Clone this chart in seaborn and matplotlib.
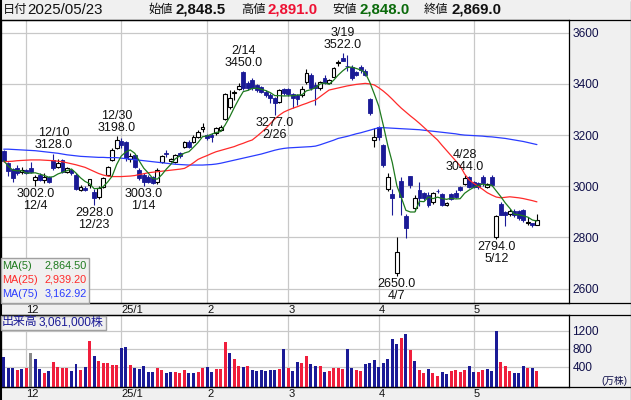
import numpy as np
import pandas as pd
import matplotlib
matplotlib.use("Agg")
import matplotlib.pyplot as plt
from matplotlib.patches import Rectangle
from matplotlib.lines import Line2D
import seaborn as sns

# ---------------- data ----------------
first_day = "2024-11-25"
last_day = "2025-05-23"
market_holidays = ["2024-12-31", "2025-01-01", "2025-01-02", "2025-01-03", "2025-01-13",
                   "2025-02-11", "2025-02-24", "2025-03-20", "2025-04-29", "2025-05-05", "2025-05-06"]

opens = [3136, 3092, 3066, 3070, 3054, 3064, 3070, 3026, 3044, 3025,
         3038, 3103, 3077, 3103, 3057, 3064, 3045, 2986, 2995, 3005,
         2979, 2960, 2999, 3044, 3103, 3148, 3178, 3174, 3105, 3122,
         3064, 3044, 3038, 3035, 3018, 3096, 3132, 3100, 3096, 3131,
         3155, 3174, 3174, 3194, 3222, 3200, 3200, 3207, 3220, 3262,
         3311, 3365, 3379, 3448, 3402, 3415, 3396, 3389, 3370, 3357,
         3344, 3331, 3379, 3379, 3362, 3357, 3357, 3409, 3435, 3396,
         3383, 3422, 3402, 3428, 3483, 3500, 3471, 3467, 3448, 3467,
         3452, 3340, 3181, 3230, 3161, 2988, 2970, 2660, 3020, 2884,
         3040, 2914, 2985, 2973, 2966, 2940, 2983, 2970, 2927, 2970,
         2975, 2998, 3008, 3038, 3018, 3012, 3038, 2999, 3035, 2801,
         2930, 2901, 2892, 2905, 2905, 2907, 2855, 2855, 2848.5]
highs = [3140, 3095, 3072, 3083, 3075, 3068, 3096, 3044, 3050, 3051,
         3042, 3128, 3105, 3108, 3075, 3068, 3050, 3005, 3000, 3030,
         2990, 3000, 3038, 3080, 3150, 3198, 3190, 3178, 3130, 3128,
         3070, 3050, 3045, 3040, 3070, 3122, 3142, 3112, 3126, 3135,
         3178, 3180, 3200, 3218, 3246, 3205, 3207, 3230, 3240, 3363,
         3376, 3376, 3402, 3450, 3410, 3422, 3400, 3392, 3375, 3363,
         3350, 3380, 3385, 3383, 3366, 3362, 3390, 3457, 3444, 3409,
         3412, 3435, 3418, 3465, 3493, 3522, 3513, 3475, 3452, 3474,
         3457, 3345, 3226, 3235, 3165, 3051, 2988, 2800, 3038, 2890,
         3042, 2966, 3018, 2978, 2979, 2979, 2988, 2975, 2940, 2975,
         2985, 3001, 3044, 3041, 3022, 3015, 3044, 3014, 3044, 2888,
         2940, 2905, 2910, 2910, 2908, 2910, 2880, 2858, 2891]
lows = [3095, 3040, 3018, 3044, 3048, 3048, 3052, 3002, 3020, 3012,
        3012, 3065, 3070, 3052, 3052, 3045, 2985, 2980, 2980, 2995,
        2928, 2950, 2995, 3040, 3100, 3145, 3150, 3100, 3095, 3070,
        3025, 3003, 3012, 3008, 3010, 3090, 3115, 3095, 3090, 3112,
        3150, 3150, 3170, 3190, 3213, 3180, 3174, 3200, 3215, 3258,
        3300, 3337, 3375, 3378, 3378, 3378, 3370, 3365, 3348, 3327,
        3277, 3325, 3355, 3352, 3304, 3318, 3350, 3400, 3378, 3318,
        3378, 3398, 3398, 3425, 3470, 3488, 3451, 3415, 3430, 3441,
        3430, 3278, 3155, 3180, 3075, 2980, 2888, 2650, 2888, 2799,
        2995, 2905, 2923, 2948, 2920, 2930, 2975, 2922, 2922, 2945,
        2955, 2980, 3005, 2992, 2995, 2990, 3000, 2995, 3000, 2794,
        2888, 2845, 2885, 2880, 2870, 2862, 2850, 2840, 2848]
closes = [3100, 3058, 3031, 3052, 3064, 3053, 3057, 3038, 3025, 3038,
          3018, 3070, 3090, 3057, 3070, 3051, 2990, 2998, 2986, 3027,
          2953, 2995, 3031, 3077, 3142, 3181, 3160, 3109, 3118, 3077,
          3031, 3018, 3015, 3012, 3064, 3118, 3128, 3108, 3122, 3118,
          3174, 3155, 3194, 3213, 3233, 3187, 3191, 3226, 3233, 3360,
          3344, 3370, 3392, 3383, 3383, 3383, 3376, 3370, 3357, 3344,
          3324, 3376, 3363, 3360, 3345, 3340, 3379, 3441, 3383, 3383,
          3409, 3402, 3415, 3461, 3484, 3491, 3470, 3422, 3435, 3454,
          3435, 3288, 3194, 3194, 3083, 3038, 2953, 2745, 2959, 2836,
          3005, 2953, 2953, 2953, 2927, 2973, 2982, 2927, 2936, 2949,
          2959, 2986, 3034, 2999, 2999, 2999, 3012, 3009, 3005, 2885,
          2888, 2888, 2905, 2888, 2875, 2868, 2861.5, 2849, 2869]
volumes = [618, 362, 376, 325, 347, 376, 706, 567, 347, 266,
           303, 508, 398, 376, 376, 303, 457, 325, 398, 969,
           633, 523, 472, 486, 435, 435, 816, 838, 435, 376,
           347, 413, 281, 281, 376, 325, 266, 281, 274, 266,
           325, 266, 266, 281, 376, 398, 281, 347, 347, 947,
           706, 560, 413, 398, 413, 325, 303, 325, 303, 325,
           325, 347, 787, 376, 303, 508, 486, 633, 457, 413,
           413, 281, 303, 376, 376, 347, 787, 376, 325, 303,
           457, 472, 545, 398, 472, 567, 1008, 904, 1036, 1117,
           765, 530, 325, 266, 347, 266, 200, 274, 230, 296,
           325, 281, 325, 413, 274, 274, 325, 347, 303, 1204,
           501, 413, 303, 252, 252, 413, 376, 376, 306.1]
# r = up vs previous close, b = down, g = unchanged
volume_dir = "".join(["bbbrbrgbbr", "brrrrbbrbr", "brrrrrbbrb", "bbbbrrbbrr",
                      "rbbrrbbrrr", "brrbrbbbbb", "brbrbbrrbb", "rbrrrrbbrr",
                      "bbbbbbbbrb", "rbrrbrrbbr", "rrrbbrrbbb", "rrrbbbrbr"])
ma25 = [3096, 3097, 3098, 3100, 3101, 3102, 3103, 3103, 3103, 3102,
        3101, 3100, 3098, 3096, 3092, 3088, 3084, 3079, 3074, 3066,
        3058, 3050, 3044, 3040, 3038, 3038, 3038, 3039, 3040, 3042,
        3046, 3049, 3053, 3055, 3057, 3059, 3061, 3063, 3065, 3067,
        3070, 3080, 3092, 3105, 3113, 3120, 3128, 3135, 3140, 3145,
        3150, 3155, 3162, 3168, 3175, 3181, 3195, 3210, 3226, 3245,
        3263, 3278, 3290, 3298, 3305, 3311, 3318, 3324, 3331, 3337,
        3350, 3363, 3376, 3380, 3384, 3388, 3392, 3395, 3398, 3400,
        3402, 3400, 3396, 3385, 3372, 3357, 3340, 3322, 3305, 3290,
        3275, 3261, 3246, 3230, 3214, 3197, 3181, 3160, 3140, 3120,
        3100, 3080, 3048, 3025, 3012, 3000, 2988, 2975, 2966, 2958,
        2955, 2957, 2959, 2957, 2955, 2952, 2948, 2944, 2939.20]
ma75 = [3145, 3145, 3144, 3143, 3142, 3141, 3140, 3139, 3137, 3135,
        3133, 3131, 3129, 3126, 3123, 3121, 3119, 3117, 3116, 3115,
        3114, 3113, 3113, 3112, 3112, 3112, 3110, 3108, 3106, 3104,
        3102, 3100, 3098, 3096, 3094, 3092, 3090, 3088, 3086, 3085,
        3084, 3083, 3083, 3083, 3083, 3084, 3085, 3087, 3090, 3094,
        3098, 3102, 3106, 3110, 3114, 3118, 3122, 3126, 3131, 3136,
        3141, 3145, 3148, 3150, 3151, 3152, 3153, 3154, 3155, 3157,
        3162, 3168, 3174, 3180, 3187, 3191, 3195, 3200, 3205, 3209,
        3214, 3219, 3224, 3229, 3229, 3228, 3227, 3226, 3225, 3224,
        3223, 3222, 3221, 3219, 3217, 3215, 3213, 3211, 3209, 3207,
        3205, 3202, 3200, 3199, 3198, 3197, 3196, 3194, 3193, 3191,
        3189, 3187, 3184, 3181, 3178, 3175, 3171, 3167, 3162.92]

high_mark_days = ["2024-12-10", "2024-12-30", "2025-02-14", "2025-03-19", "2025-04-28"]
low_mark_days = ["2024-12-04", "2024-12-23", "2025-01-14", "2025-02-26", "2025-04-07", "2025-05-12"]
price_ticks = [2600, 2800, 3000, 3200, 3400, 3600]
volume_ticks = [400, 800, 1200]

# ---------------- style ----------------
sns.set_theme(style="white")
plt.rcParams["font.family"] = ["Liberation Sans", "Noto Sans CJK JP", "DejaVu Sans"]
plt.rcParams["axes.linewidth"] = 0.9

W, H = 631, 400
BG = "#f0f0f0"
GRID = "#c8c8c8"
NAVY = "#1a1a96"
RED = "#f01e3c"
GREEN = "#1e7a1e"
MA_RED = "#ff2a2a"
MA_BLUE = "#2a3cff"


def fx(px):
    return px / W


def fy(py):
    return 1 - py / H


dates = pd.bdate_range(first_day, last_day)
dates = dates[~dates.isin(pd.to_datetime(market_holidays))]
n = len(dates)
idx = np.arange(n)
df = pd.DataFrame({"date": dates, "i": idx, "open": opens, "high": highs, "low": lows,
                   "close": closes, "volume": volumes, "dir": list(volume_dir),
                   "ma25": ma25, "ma75": ma75})
df["ma5"] = df["close"].rolling(5, min_periods=1).mean()

# month separators: first trading day of each complete month shown
month_first = df.groupby([df["date"].dt.year, df["date"].dt.month])["i"].min().values
month_first = [i for i in month_first if i > 0]
month_labels = []
for i in month_first:
    d = df["date"].iloc[i]
    month_labels.append(f"{d.year % 100}/{d.month}" if d.month == 1 else f"{d.month}")

fig = plt.figure(figsize=(W / 100, H / 100), dpi=100, facecolor=BG)

x_lo, x_hi = -0.71, 125.1
ax = fig.add_axes([fx(0.5), fy(302.7), fx(569 - 0.5), (302.7 - 20) / H])
axv = fig.add_axes([fx(0.5), fy(386.7), fx(569 - 0.5), (386.7 - 315) / H])

for a in (ax, axv):
    a.set_facecolor("white")
    a.set_xlim(x_lo, x_hi)
    a.set_xticks(month_first)
    a.set_xticklabels(month_labels, ha="left")
    a.tick_params(axis="x", length=0, pad=1.5, labelsize=8, labelcolor="#111111")
    a.tick_params(axis="y", length=0, pad=2.5, labelsize=8.6, labelcolor="#10104a",
                  left=False, right=True, labelleft=False, labelright=True)
    a.grid(True, color=GRID, lw=0.9)
    a.set_axisbelow(True)
    for s in a.spines.values():
        s.set_color("black")
        s.set_linewidth(0.9)

ax.set_ylim(2545.3, 3649.6)
ax.set_yticks(price_ticks)
axv.set_ylim(-44.6, 1549)
axv.set_yticks(volume_ticks)

# ---------------- candles ----------------
up = df["close"] >= df["open"]
wick_colors = np.where(up, "black", NAVY)
ax.vlines(df["i"], df["low"], df["high"], colors=wick_colors, lw=0.8, zorder=2)
body_bottom = np.minimum(df["open"], df["close"])
body_h = np.maximum(np.abs(df["close"] - df["open"]), 1.5)
ax.bar(df["i"][up], body_h[up], bottom=body_bottom[up], width=0.85,
       color="white", edgecolor="black", linewidth=0.8, zorder=3)
ax.bar(df["i"][~up], body_h[~up], bottom=body_bottom[~up], width=0.85,
       color=NAVY, edgecolor=NAVY, linewidth=0.6, zorder=3)

sns.lineplot(data=df, x="i", y="ma75", ax=ax, color=MA_BLUE, lw=0.9, zorder=4)
sns.lineplot(data=df, x="i", y="ma25", ax=ax, color=MA_RED, lw=0.9, zorder=4)
sns.lineplot(data=df, x="i", y="ma5", ax=ax, color=GREEN, lw=0.9, zorder=5)
ax.set_xlabel("")
ax.set_ylabel("")

# high / low marks
for day in high_mark_days:
    r = df[df["date"] == pd.Timestamp(day)].iloc[0]
    ax.annotate(f"{r.date.month}/{r.date.day}\n{r.high:.1f}", (r.i, r.high),
                xytext=(0, 1.5), textcoords="offset points", ha="center", va="bottom",
                fontsize=9, linespacing=1.0, color="#111111", zorder=6)
for day in low_mark_days:
    r = df[df["date"] == pd.Timestamp(day)].iloc[0]
    ax.annotate(f"{r.low:.1f}\n{r.date.month}/{r.date.day}", (r.i, r.low),
                xytext=(0, -1.5), textcoords="offset points", ha="center", va="top",
                fontsize=9, linespacing=1.0, color="#111111", zorder=6)

# ---------------- volume ----------------
vcol = {"r": RED, "b": NAVY, "g": "#888888"}
base = axv.get_ylim()[0]
axv.bar(df["i"], df["volume"] - base, bottom=base, width=0.66,
        color=[vcol[c] for c in df["dir"]], linewidth=0, zorder=3)
axv.set_xlabel("")
axv.set_ylabel("")

for lab in ax.get_xticklabels() + axv.get_xticklabels():
    lab.set_horizontalalignment("left")

# ---------------- decorations ----------------
hy = fy(10)
fig.text(fx(3), hy, "日付", fontsize=8.8, va="center", color="#111111")
fig.text(fx(27), hy, dates[-1].strftime("%Y/%m/%d"), fontsize=10.8, va="center", color="#111111")
head_items = [("始値", opens[-1], "#111111", 148, 176),
              ("高値", highs[-1], "#ee1133", 241, 268),
              ("安値", lows[-1], "#0a6a0a", 332, 360),
              ("終値", closes[-1], "#111111", 424, 451)]
for lab, val, col, xl, xv in head_items:
    fig.text(fx(xl), hy, lab, fontsize=8.8, va="center", color="#111111")
    fig.text(fx(xv), hy, f"{val:,.1f}", fontsize=10.8, va="center", color=col, fontweight="bold")

# frame lines
for py in (20, 302.7, 315, 386.7):
    fig.add_artist(Line2D([0, 1], [fy(py), fy(py)], color="black", lw=0.9, transform=fig.transFigure))
fig.add_artist(Line2D([fx(630.5), fx(630.5)], [0, fy(0.5)], color="#404040", lw=0.9, transform=fig.transFigure))
fig.add_artist(Line2D([fx(0.5), fx(0.5)], [0, 1], color="black", lw=1.5, transform=fig.transFigure))

# MA legend box
fig.patches.append(Rectangle((fx(0.5), fy(302.5)), fx(88), (302.5 - 258) / H, transform=fig.transFigure,
                             facecolor=BG, edgecolor="#a0a0a0", lw=1.0, zorder=6))
ma_rows = [("MA(5)", df["ma5"].iloc[-1], GREEN, 266),
           ("MA(25)", ma25[-1], MA_RED, 280),
           ("MA(75)", ma75[-1], MA_BLUE, 294)]
for name, val, col, py in ma_rows:
    fig.text(fx(2), fy(py), name, fontsize=7.8, color=col, va="center", zorder=7)
    fig.text(fx(87), fy(py), f"{val:,.2f}", fontsize=7.8, color=col, va="center", ha="right", zorder=7)

# volume legend box
fig.patches.append(Rectangle((fx(0.5), fy(329.5)), fx(105), (329.5 - 315.5) / H, transform=fig.transFigure,
                             facecolor=BG, edgecolor="#a0a0a0", lw=1.0, zorder=6))
fig.text(fx(2), fy(322.5), "出来高", fontsize=8.6, color=NAVY, va="center", zorder=7)
fig.text(fx(103), fy(322.5), f"{volumes[-1] * 10000:,.0f}株", fontsize=8.6, color=NAVY,
         va="center", ha="right", zorder=7)
fig.text(fx(627), fy(380.5), "(万株)", fontsize=7, color="#10104a", va="center", ha="right")

fig.savefig("out.png", dpi=100, facecolor=BG)
